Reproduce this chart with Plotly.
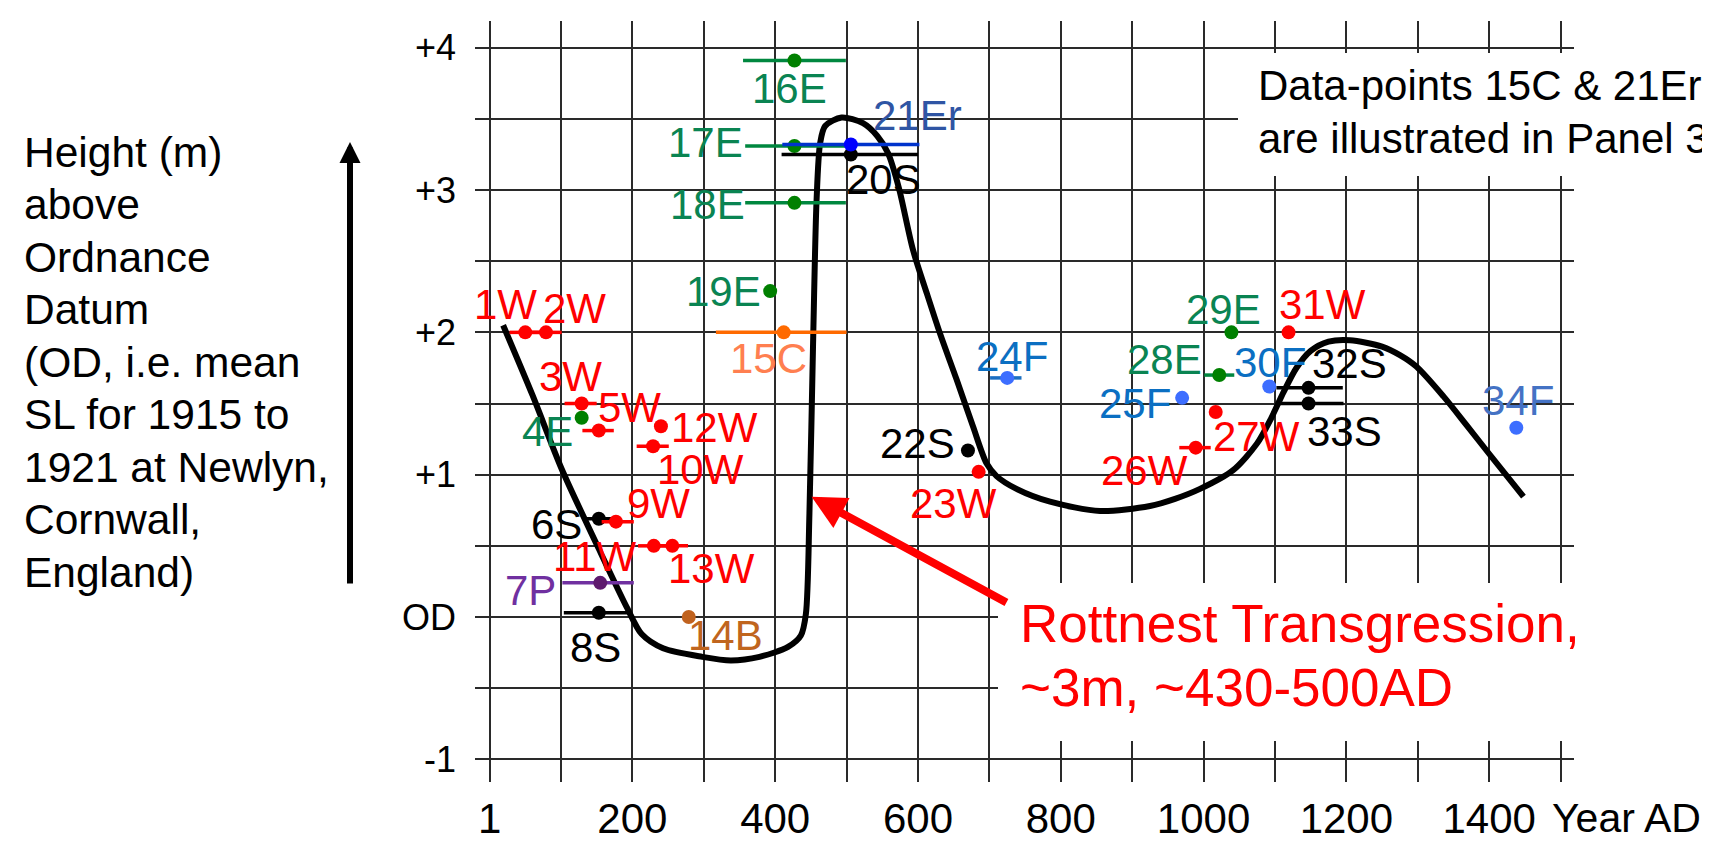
import plotly.graph_objects as go

# ---------------- data ----------------
point_ids = ["1W", "2W", "3W", "4E", "5W", "6S", "7P", "8S", "9W", "10W", "11W", "12W", "13W",
             "14B", "15C", "16E", "17E", "18E", "19E", "20S", "21Er", "22S", "23W", "24F", "25F",
             "26W", "27W", "28E", "29E", "30F", "31W", "32S", "33S", "34F"]
point_years = [50, 79, 129, 129, 153, 153, 155, 153, 177, 229, 230, 240, 256,
               279, 412, 427, 427, 427, 393, 506, 506, 670, 685, 725, 970,
               989, 1017, 1022, 1039, 1092, 1119, 1147, 1147, 1438]
point_heights = [2.0, 2.0, 1.50, 1.40, 1.31, 0.69, 0.24, 0.03, 0.67, 1.20, 0.50, 1.34, 0.50,
                 0.0, 2.0, 3.91, 3.31, 2.91, 2.29, 3.25, 3.32, 1.17, 1.02, 1.68, 1.54,
                 1.19, 1.44, 1.70, 2.0, 1.62, 2.0, 1.61, 1.50, 1.33]
err_minus = [22, 22, 24, 0, 23, 20, 53, 49, 20, 23, 22, 0, 22,
             0, 95, 72, 69, 69, 0, 97, 96, 0, 0, 24, 0,
             23, 0, 21, 0, 0, 0, 45, 45, 0]
err_plus = [22, 22, 21, 0, 21, 25, 47, 41, 25, 22, 22, 0, 22,
            0, 88, 72, 74, 72, 0, 94, 96, 0, 0, 20, 0,
            21, 0, 21, 0, 0, 0, 48, 49, 0]
point_groups = ["W", "W", "W", "E", "W", "S", "P", "S", "W", "W", "W", "W", "W",
                "B", "C", "E", "E", "E", "E", "S", "Er", "S", "W", "F", "F",
                "W", "W", "E", "E", "F", "W", "S", "S", "F34"]

curve_years = [19, 60, 101, 151, 193, 213, 243, 298, 338, 378, 418, 436, 443, 448, 453, 458,
               463, 470, 493, 523, 543, 558, 573, 593, 612, 631, 654, 677, 696, 710, 738,
               785, 855, 925, 960, 995, 1041, 1075, 1095, 1112, 1130, 1150, 1175, 1205,
               1250, 1275, 1298, 1336, 1368, 1401, 1448]
curve_heights = [2.05, 1.56, 1.04, 0.50, 0.06, -0.12, -0.22, -0.28, -0.305, -0.28, -0.21,
                 -0.13, 0.02, 0.73, 1.9, 2.93, 3.33, 3.45, 3.51, 3.47, 3.38, 3.26, 3.02,
                 2.58, 2.28, 1.99, 1.67, 1.34, 1.08, 0.99, 0.9, 0.81, 0.745, 0.78, 0.83,
                 0.9, 1.03, 1.22, 1.40, 1.58, 1.75, 1.87, 1.935, 1.945, 1.9, 1.84, 1.76,
                 1.55, 1.35, 1.14, 0.845]

x_tick_values = list(range(0, 1501, 100))
x_tick_text = ["1", "", "200", "", "400", "", "600", "", "800", "", "1000", "", "1200", "", "1400", ""]
y_tick_values = [-1, -0.5, 0, 0.5, 1, 1.5, 2, 2.5, 3, 3.5, 4]
y_tick_text = ["-1", "", "OD", "", "+1", "", "+2", "", "+3", "", "+4"]

ylabel_lines = ["Height (m)", "above", "Ordnance", "Datum", "(OD, i.e. mean",
                "SL for 1915 to", "1921 at Newlyn,", "Cornwall,", "England)"]
note_lines = ["Data-points 15C & 21Er", "are illustrated in Panel 3"]
rott_lines = ["Rottnest Transgression,", "~3m, ~430-500AD"]

# ---------------- styles ----------------
FONT = "Liberation Sans, Arial, Helvetica, sans-serif"
group_style = {  # dot colour, bar colour, label colour
    "W": ("#FF0000", "#FF0000", "#FF0000"),
    "E": ("#008000", "#00873F", "#0A8452"),
    "S": ("#000000", "#000000", "#000000"),
    "P": ("#5E1A6E", "#7030A0", "#7030A0"),
    "B": ("#C0621E", "#C0621E", "#C0651E"),
    "C": ("#FF6A00", "#FF6A00", "#FF7F50"),
    "Er": ("#0000FF", "#0033CC", "#2F55A4"),
    "F": ("#3D6EFF", "#1B6FC2", "#0B6FC2"),
    "F34": ("#3D6EFF", "#3D6EFF", "#4472C4"),
}
label_offsets = {  # pixel offsets of label centre from the dot
    "1W": (-20, 28), "2W": (29, 24), "3W": (-11, 27), "4E": (-34, -14), "5W": (31, 23),
    "6S": (-42, -6), "7P": (-70, -8), "8S": (-3, -35), "9W": (43, 18), "10W": (47, -23),
    "11W": (-59, -11), "12W": (54, -1), "13W": (39, -23), "14B": (37, -19), "15C": (-15, -26),
    "16E": (-5, -28), "17E": (-89, 3), "18E": (-87, -2), "19E": (-47, 0), "20S": (33, -25),
    "21Er": (67, 29), "22S": (-50, 7), "23W": (-25, -32), "24F": (5, 21), "25F": (-47, -6),
    "26W": (-51, -23), "27W": (41, -24), "28E": (-55, 16), "29E": (-8, 23), "30F": (1, 24),
    "31W": (34, 28), "32S": (41, 24), "33S": (36, -28), "34F": (2, 27),
}

# the page body adds an 8px margin; the figure is sized so it ends at the window edge
OFF = 8
W, H = 1710 - OFF, 843 - OFF
ML, MT = 475 - OFF, 21 - OFF
MR = W - (1574 - OFF)
MB = H - (782 - OFF)
PW, PH = W - ML - MR, H - MT - MB


def px_x(px):  # page pixel -> paper x
    return (px - OFF - ML) / PW


def px_y(py):  # page pixel -> paper y
    return (H - MB - (py - OFF)) / PH


fig = go.Figure()

fig.add_trace(go.Scatter(x=curve_years, y=curve_heights, mode="lines",
                         line=dict(color="black", width=6, shape="spline", smoothing=0.8),
                         hoverinfo="skip", showlegend=False))

for i, pid in enumerate(point_ids):
    dot_c, bar_c, lab_c = group_style[point_groups[i]]
    has_bar = err_minus[i] > 0 or err_plus[i] > 0
    fig.add_trace(go.Scatter(
        x=[point_years[i]], y=[point_heights[i]], mode="markers",
        marker=dict(color=dot_c, size=14),
        error_x=dict(type="data", symmetric=False, array=[err_plus[i]], arrayminus=[err_minus[i]],
                     color=bar_c, thickness=3.5, width=0, visible=has_bar),
        showlegend=False, name=pid))

annotations = []
for i, pid in enumerate(point_ids):
    dx, dy = label_offsets[pid]
    annotations.append(dict(x=point_years[i], y=point_heights[i], xref="x", yref="y", text=pid,
                            showarrow=False, xshift=dx, yshift=dy, xanchor="center", yanchor="middle",
                            font=dict(family=FONT, size=42, color=group_style[point_groups[i]][2])))

for k, line in enumerate(ylabel_lines):
    annotations.append(dict(x=px_x(22), y=px_y(152 + 52.5 * k), xref="paper", yref="paper", text=line,
                            showarrow=False, xanchor="left", yanchor="middle",
                            font=dict(family=FONT, size=42.5, color="black")))

for k, line in enumerate(note_lines):
    annotations.append(dict(x=px_x(1256), y=px_y(86 + 52 * k), xref="paper", yref="paper", text=line,
                            showarrow=False, xanchor="left", yanchor="middle",
                            font=dict(family=FONT, size=42, color="black")))

for k, line in enumerate(rott_lines):
    annotations.append(dict(x=px_x(1018), y=px_y(623 + 64 * k), xref="paper", yref="paper", text=line,
                            showarrow=False, xanchor="left", yanchor="middle",
                            font=dict(family=FONT, size=53, color="#FF0000")))

annotations.append(dict(x=px_x(1626), y=px_y(818), xref="paper", yref="paper", text="Year AD",
                        showarrow=False, xanchor="center", yanchor="middle",
                        font=dict(family=FONT, size=41, color="black")))

# red arrow
annotations.append(dict(x=451, y=0.845, xref="x", yref="y", ax=726, ay=0.096, axref="x", ayref="y",
                        text="", showarrow=True, arrowhead=2, arrowsize=0.85, arrowwidth=8,
                        arrowcolor="#FF0000", standoff=0))
# left vertical arrow
annotations.append(dict(x=px_x(350), y=px_y(142), xref="paper", yref="paper", ax=0, ay=443,
                        text="", showarrow=True, arrowhead=2, arrowsize=0.7, arrowwidth=6,
                        arrowcolor="black", standoff=0))

shapes = [
    dict(type="rect", xref="paper", yref="paper", x0=px_x(1238), x1=1.0, y0=px_y(176), y1=px_y(53),
         fillcolor="white", line=dict(width=0), layer="above"),
    dict(type="rect", xref="paper", yref="paper", x0=px_x(998), x1=1.0, y0=px_y(741), y1=px_y(583),
         fillcolor="white", line=dict(width=0), layer="above"),
]

fig.update_layout(
    width=W, height=H, margin=dict(l=ML, r=MR, t=MT, b=MB, autoexpand=False),
    paper_bgcolor="white", plot_bgcolor="white", showlegend=False,
    annotations=annotations, shapes=shapes, hovermode=False,
    xaxis=dict(range=[-20.4, 1518.8], tickvals=x_tick_values, ticktext=x_tick_text, automargin=False,
               showgrid=True, gridcolor="#2a2a2a", gridwidth=1.5, zeroline=False, showline=False,
               ticks="", ticklabelstandoff=8, tickfont=dict(family=FONT, size=42, color="black")),
    yaxis=dict(range=[-1.1595, 4.188], tickvals=y_tick_values, ticktext=y_tick_text, automargin=False,
               showgrid=True, gridcolor="#2a2a2a", gridwidth=1.5, zeroline=False, showline=False,
               ticks="", ticklabelstandoff=18, tickfont=dict(family=FONT, size=36, color="black")),
)

fig.write_html("out.html")
